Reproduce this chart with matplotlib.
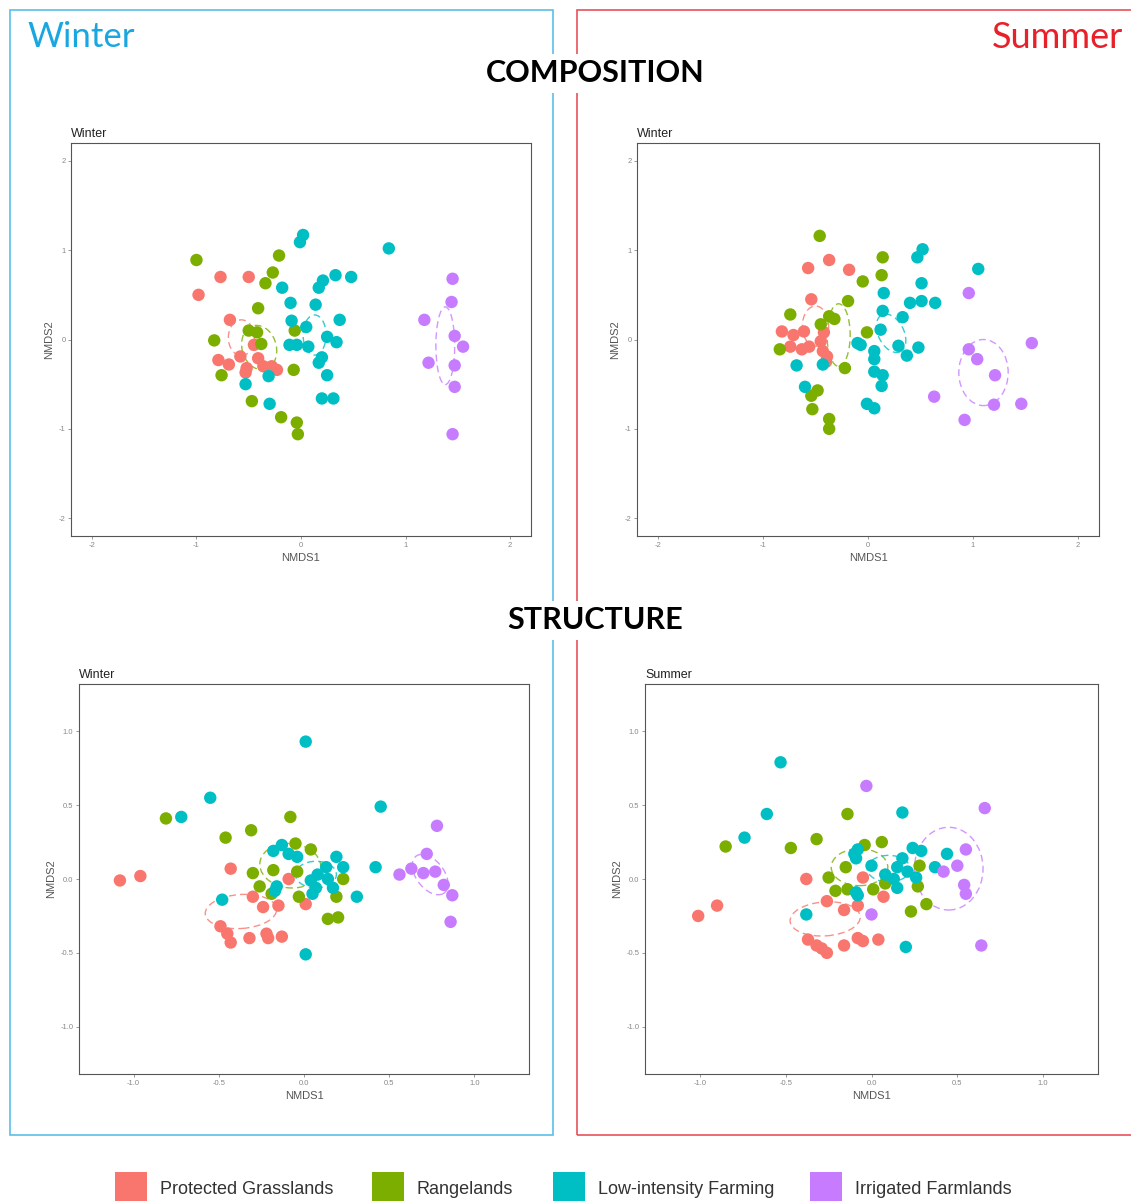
import matplotlib.pyplot as plt
from matplotlib.patches import Ellipse, Rectangle
import numpy as np

groups = ["Protected Grasslands", "Rangelands", "Low-intensity Farming", "Irrigated Farmlands"]
colors = ["#F8766D", "#7CAE00", "#00BFC4", "#C77CFF"]

# ---- composition, winter ----
comp_w = {
    "Protected Grasslands": (
        [-0.77, -0.50, -0.98, -0.68, -0.45, -0.79, -0.69, -0.58, -0.52, -0.53, -0.41, -0.36, -0.28, -0.23],
        [0.70, 0.70, 0.50, 0.22, -0.06, -0.23, -0.28, -0.19, -0.32, -0.37, -0.21, -0.30, -0.30, -0.34]),
    "Rangelands": (
        [-1.00, -0.21, -0.27, -0.34, -0.41, -0.50, -0.42, -0.83, -0.38, -0.76, -0.07, -0.06, -0.47, -0.19, -0.04, -0.03],
        [0.89, 0.94, 0.75, 0.63, 0.35, 0.10, 0.08, -0.01, -0.05, -0.40, -0.34, 0.10, -0.69, -0.87, -0.93, -1.06]),
    "Low-intensity Farming": (
        [0.02, -0.01, 0.84, 0.33, 0.48, 0.21, 0.17, -0.18, -0.10, 0.14, 0.37, -0.09, 0.05, 0.25, 0.34,
         -0.11, -0.04, 0.07, 0.20, 0.17, 0.25, -0.31, -0.53, -0.30, 0.20, 0.31],
        [1.17, 1.09, 1.02, 0.72, 0.70, 0.66, 0.58, 0.58, 0.41, 0.39, 0.22, 0.21, 0.14, 0.03, -0.03,
         -0.06, -0.06, -0.08, -0.20, -0.26, -0.40, -0.41, -0.50, -0.72, -0.66, -0.66]),
    "Irrigated Farmlands": (
        [1.45, 1.44, 1.18, 1.47, 1.55, 1.22, 1.47, 1.47, 1.45],
        [0.68, 0.42, 0.22, 0.04, -0.08, -0.26, -0.29, -0.53, -1.06]),
}
comp_w_ell = [(-0.57, 0.02, 0.25, 0.40, 0), (-0.40, -0.09, 0.33, 0.50, 10),
              (0.13, 0.05, 0.22, 0.45, 0), (1.38, -0.07, 0.18, 0.87, 0)]

# ---- composition, summer (panel titled "Winter" in the original) ----
comp_s = {
    "Protected Grasslands": (
        [-0.37, -0.57, -0.18, -0.54, -0.82, -0.71, -0.61, -0.74, -0.63, -0.56, -0.42, -0.45, -0.43, -0.39, -0.40],
        [0.89, 0.80, 0.78, 0.45, 0.09, 0.05, 0.09, -0.08, -0.11, -0.08, 0.08, -0.02, -0.13, -0.19, -0.25]),
    "Rangelands": (
        [-0.46, 0.14, 0.13, -0.05, -0.19, -0.74, -0.37, -0.32, -0.45, -0.01, -0.84, -0.22, -0.48, -0.54, -0.53, -0.37, -0.37],
        [1.16, 0.92, 0.72, 0.65, 0.43, 0.28, 0.26, 0.23, 0.17, 0.08, -0.11, -0.32, -0.57, -0.63, -0.78, -0.89, -1.00]),
    "Low-intensity Farming": (
        [0.52, 0.47, 1.05, 0.51, 0.15, 0.14, 0.40, 0.51, 0.64, 0.33, 0.12, -0.10, -0.07, 0.29,
         0.37, 0.48, 0.06, 0.06, 0.06, 0.14, 0.13, -0.68, -0.43, -0.60, -0.01, 0.06],
        [1.01, 0.92, 0.79, 0.63, 0.52, 0.32, 0.41, 0.43, 0.41, 0.25, 0.11, -0.04, -0.06, -0.07,
         -0.18, -0.09, -0.13, -0.22, -0.36, -0.40, -0.52, -0.29, -0.28, -0.53, -0.72, -0.77]),
    "Irrigated Farmlands": (
        [0.96, 1.56, 0.96, 1.04, 1.21, 0.63, 1.20, 1.46, 0.92],
        [0.52, -0.04, -0.11, -0.22, -0.40, -0.64, -0.73, -0.72, -0.90]),
}
comp_s_ell = [(-0.50, 0.15, 0.25, 0.45, 0), (-0.28, 0.05, 0.22, 0.70, 0),
              (0.22, 0.07, 0.25, 0.45, 20), (1.10, -0.37, 0.47, 0.74, 0)]

# ---- structure, winter ----
str_w = {
    "Protected Grasslands": (
        [-1.08, -0.96, -0.43, -0.09, -0.30, -0.24, -0.15, 0.01, -0.49, -0.45, -0.43, -0.32, -0.22, -0.21, -0.13],
        [-0.01, 0.02, 0.07, 0.00, -0.12, -0.19, -0.18, -0.17, -0.32, -0.37, -0.43, -0.40, -0.37, -0.40, -0.39]),
    "Rangelands": (
        [-0.81, -0.31, -0.46, -0.08, -0.05, 0.04, -0.30, -0.18, -0.04, -0.26, -0.19, -0.03, 0.19, 0.23, 0.14, 0.20],
        [0.41, 0.33, 0.28, 0.42, 0.24, 0.20, 0.04, 0.06, 0.05, -0.05, -0.10, -0.12, -0.12, 0.00, -0.27, -0.26]),
    "Low-intensity Farming": (
        [0.01, -0.55, -0.72, 0.45, 0.42, 0.31, -0.48, 0.01, -0.18, -0.13, -0.09, -0.04, 0.19, 0.23,
         0.08, 0.13, 0.04, 0.07, 0.05, 0.14, 0.17, -0.16, -0.17],
        [0.93, 0.55, 0.42, 0.49, 0.08, -0.12, -0.14, -0.51, 0.19, 0.23, 0.17, 0.15, 0.15, 0.08,
         0.03, 0.08, -0.01, -0.06, -0.10, 0.00, -0.06, -0.05, -0.08]),
    "Irrigated Farmlands": (
        [0.56, 0.63, 0.70, 0.72, 0.77, 0.78, 0.82, 0.87, 0.86],
        [0.03, 0.07, 0.04, 0.17, 0.05, 0.36, -0.04, -0.11, -0.29]),
}
str_w_ell = [(-0.37, -0.22, 0.42, 0.23, 5), (-0.08, 0.09, 0.36, 0.30, -10),
             (0.07, 0.03, 0.24, 0.18, 0), (0.74, 0.03, 0.17, 0.30, 30)]

# ---- structure, summer ----
str_s = {
    "Protected Grasslands": (
        [-1.01, -0.90, -0.38, -0.26, -0.16, -0.08, -0.05, 0.07, -0.37, -0.32, -0.29, -0.26, -0.16, -0.08, -0.05, 0.04],
        [-0.25, -0.18, 0.00, -0.15, -0.21, -0.18, 0.01, -0.12, -0.41, -0.45, -0.47, -0.50, -0.45, -0.40, -0.42, -0.41]),
    "Rangelands": (
        [-0.85, -0.47, -0.32, -0.14, -0.04, 0.06, -0.15, -0.25, -0.21, -0.14, 0.01, 0.08, 0.28, 0.27, 0.23, 0.32],
        [0.22, 0.21, 0.27, 0.44, 0.23, 0.25, 0.08, 0.01, -0.08, -0.07, -0.07, -0.03, 0.09, -0.05, -0.22, -0.17]),
    "Low-intensity Farming": (
        [-0.53, -0.61, -0.74, 0.18, -0.38, 0.20, 0.44, 0.37, -0.10, -0.08, -0.09, 0.00, 0.18, 0.24,
         0.29, 0.15, 0.08, 0.13, 0.15, 0.21, 0.26, -0.09, -0.08],
        [0.79, 0.44, 0.28, 0.45, -0.24, -0.46, 0.17, 0.08, 0.17, 0.20, 0.14, 0.09, 0.14, 0.21,
         0.19, 0.08, 0.03, 0.00, -0.06, 0.05, 0.01, -0.09, -0.11]),
    "Irrigated Farmlands": (
        [-0.03, 0.66, 0.55, 0.50, 0.42, 0.54, 0.55, 0.00, 0.64],
        [0.63, 0.48, 0.20, 0.09, 0.05, -0.04, -0.10, -0.24, -0.45]),
}
str_s_ell = [(-0.27, -0.27, 0.41, 0.23, 5), (-0.07, 0.08, 0.33, 0.25, 0),
             (0.10, 0.07, 0.25, 0.18, 0), (0.45, 0.07, 0.40, 0.56, 0)]

comp_ticks = [-2, -1, 0, 1, 2]
str_ticks = [-1.0, -0.5, 0.0, 0.5, 1.0]

W, H = 1131, 1202
fig = plt.figure(figsize=(W / 100, H / 100), dpi=100)
plt.rcParams['font.family'] = ['Liberation Sans', 'DejaVu Sans']


def px_axes(l, r, t, b):
    return fig.add_axes([l / W, 1 - b / H, (r - l) / W, (b - t) / H])


def panel(ax, data, ells, title, lim, ticks, fmt):
    for g, c in zip(groups, colors):
        x, y = data[g]
        ax.scatter(x, y, s=80, color=c, edgecolors='none', zorder=3)
    for (cx, cy, w, h, a), c in zip(ells, colors):
        ax.add_patch(Ellipse((cx, cy), w, h, angle=a, fill=False, edgecolor=c,
                             lw=1.0, ls=(0, (5, 3)), zorder=2, alpha=0.8))
    ax.set_xlim(-lim, lim)
    ax.set_ylim(-lim, lim)
    ax.set_xticks(ticks)
    ax.set_yticks(ticks)
    ax.set_xticklabels([fmt.format(t) for t in ticks])
    ax.set_yticklabels([fmt.format(t) for t in ticks])
    ax.tick_params(labelsize=5.5, colors='#888888', length=2, width=0.6, pad=2)
    for s in ax.spines.values():
        s.set_color('#555555')
        s.set_linewidth(0.8)
    ax.set_xlabel("NMDS1", fontsize=8, color='#555555', labelpad=3)
    ax.set_ylabel("NMDS2", fontsize=8, color='#555555', labelpad=3)
    ax.set_title(title, fontsize=9, loc='left', color='#222222', pad=4)


ax1 = px_axes(71, 531, 143, 536)
panel(ax1, comp_w, comp_w_ell, "Winter", 2.2, comp_ticks, "{:d}")
ax2 = px_axes(637, 1099, 143, 536)
panel(ax2, comp_s, comp_s_ell, "Winter", 2.2, comp_ticks, "{:d}")
ax3 = px_axes(79, 529, 684, 1074)
panel(ax3, str_w, str_w_ell, "Winter", 1.32, str_ticks, "{:.1f}")
ax4 = px_axes(645, 1098, 684, 1074)
panel(ax4, str_s, str_s_ell, "Summer", 1.32, str_ticks, "{:.1f}")

# season frames
fig.add_artist(Rectangle((10 / W, 1 - 1135 / H), 543 / W, 1125 / H, transform=fig.transFigure,
                         fill=False, edgecolor='#5BBFE6', lw=1.2, zorder=0))
fig.add_artist(Rectangle((577 / W, 1 - 1135 / H), 600 / W, 1125 / H, transform=fig.transFigure,
                         fill=False, edgecolor='#E8505A', lw=1.2, zorder=0))

fig.text(27 / W, 1 - 37 / H, "Winter", color='#1AA7E0', fontsize=25, family='Lato',
         ha='left', va='center')
fig.text(1123 / W, 1 - 37 / H, "Summer", color='#E8202A', fontsize=26, family='Lato',
         ha='right', va='center')
fig.text(595 / W, 1 - 73 / H, "COMPOSITION", fontsize=22, weight='bold', family='Lato',
         ha='center', va='center', bbox=dict(facecolor='white', edgecolor='none', pad=4))
fig.text(595 / W, 1 - 620 / H, "STRUCTURE", fontsize=22, weight='bold', family='Lato',
         ha='center', va='center', bbox=dict(facecolor='white', edgecolor='none', pad=4))

# legend
leg_x = [115, 372, 553, 810]
for g, c, lx in zip(groups, colors, leg_x):
    fig.add_artist(Rectangle((lx / W, 1 - 1201 / H), 32 / W, 29 / H, transform=fig.transFigure,
                             facecolor=c, edgecolor='none'))
    fig.text((lx + 45) / W, 1 - 1189 / H, g, fontsize=13, color='#333333',
             ha='left', va='center')

fig.savefig("out.png", dpi=100)
